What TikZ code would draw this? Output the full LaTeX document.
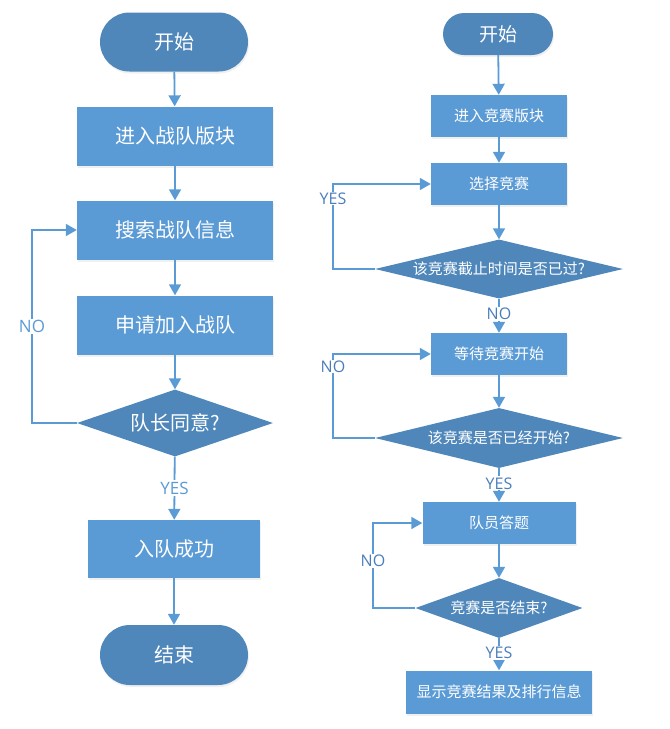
\documentclass[tikz,border=0pt]{standalone}
\usepackage{fontspec}
\setmainfont{Noto Sans CJK SC}
\newfontfamily\latinfont{Open Sans}
\usetikzlibrary{shapes.geometric,shapes.misc,arrows.meta,shadows}

\definecolor{darkblue}{HTML}{4F87BB}
\definecolor{boxblue}{HTML}{5B9BD5}
\definecolor{lblblue}{HTML}{4A7EBB}

\begin{document}
\begin{tikzpicture}[x=1pt, y=-1pt]
\tikzstyle{term}=[rounded rectangle, fill=darkblue, text=white, inner sep=0pt, drop shadow={opacity=0.12, shadow xshift=1pt, shadow yshift=-2pt}];
\tikzstyle{proc}=[rectangle, fill=boxblue, text=white, inner sep=0pt, drop shadow={opacity=0.12, shadow xshift=1pt, shadow yshift=-2pt}];
\tikzstyle{dec}=[diamond, fill=darkblue, text=white, inner sep=0pt];
\tikzstyle{e}=[draw=boxblue, line width=1.8pt, -{Triangle[width=12pt,length=11pt]}];
\tikzstyle{lbl}=[fill=white, inner sep=1.5pt, font=\latinfont\fontsize{17}{17}\selectfont];
\useasboundingbox (0,0) rectangle (670,729);

% left column
\node[term, minimum width=148pt, minimum height=59pt, font=\fontsize{20}{20}\selectfont] (start1) at (174, 42) {开始};
\node[proc, minimum width=196pt, minimum height=59pt, font=\fontsize{20}{20}\selectfont] (enter1) at (175, 136) {进入战队版块};
\node[proc, minimum width=196pt, minimum height=59pt, font=\fontsize{20}{20}\selectfont] (search) at (175, 230) {搜索战队信息};
\node[proc, minimum width=196pt, minimum height=59pt, font=\fontsize{20}{20}\selectfont] (apply) at (175, 325) {申请加入战队};
\node[dec, minimum width=196pt, minimum height=67pt, aspect=2.9, font=\fontsize{20}{20}\selectfont] (agree) at (175, 423) {队长同意?};
\node[proc, minimum width=172pt, minimum height=58pt, font=\fontsize{20}{20}\selectfont] (joined) at (174, 549) {入队成功};
\node[term, minimum width=148pt, minimum height=60pt, font=\fontsize{20}{20}\selectfont] (end1) at (174, 655) {结束};
\coordinate (c1) at (32, 423);
\coordinate (c2) at (32, 230);

\draw[e] (start1) -- (enter1);
\draw[e] (enter1) -- (search);
\draw[e] (search) -- (apply);
\draw[e] (apply) -- (agree);
\draw[e] (agree) -- node[lbl, text=boxblue, pos=0.5] {YES} (joined);
\draw[e] (joined) -- (end1);
\draw[e] (agree.west) -- (c1) -- node[lbl, text=boxblue, pos=0.5] {NO} (c2) -- (search.west);

% right column
\tikzstyle{lbl2}=[fill=white, inner sep=1pt, text=lblblue, font=\latinfont\fontsize{16}{16}\selectfont];
\node[term, minimum width=110pt, minimum height=42pt, font=\fontsize{19}{19}\selectfont] (start2) at (498, 34) {开始};
\node[proc, minimum width=136pt, minimum height=42pt, font=\fontsize{15}{15}\selectfont] (enter2) at (499, 116) {进入竞赛版块};
\node[proc, minimum width=136pt, minimum height=42pt, font=\fontsize{15}{15}\selectfont] (choose) at (499, 184) {选择竞赛};
\node[dec, minimum width=248pt, minimum height=59pt, aspect=4.2, font=\fontsize{15}{15}\selectfont] (deadline) at (499, 269) {该竞赛截止时间是否已过?};
\node[proc, minimum width=136pt, minimum height=42pt, font=\fontsize{15}{15}\selectfont] (wait) at (499, 354) {等待竞赛开始};
\node[dec, minimum width=248pt, minimum height=60pt, aspect=4.1, font=\fontsize{15}{15}\selectfont] (begun) at (499, 438) {该竞赛是否已经开始?};
\node[proc, minimum width=153pt, minimum height=42pt, font=\fontsize{15}{15}\selectfont] (answer) at (499, 523) {队员答题};
\node[dec, minimum width=167pt, minimum height=60pt, aspect=2.8, font=\fontsize{15}{15}\selectfont] (over) at (499, 608) {竞赛是否结束?};
\node[proc, minimum width=186pt, minimum height=43pt, font=\fontsize{15}{15}\selectfont] (result) at (499, 692) {显示竞赛结果及排行信息};
\coordinate (r1) at (333, 269);
\coordinate (r2) at (333, 184);
\coordinate (r3) at (333, 438);
\coordinate (r4) at (333, 354);
\coordinate (r5) at (373, 608);
\coordinate (r6) at (373, 523);

\draw[e] (start2) -- (enter2);
\draw[e] (enter2) -- (choose);
\draw[e] (choose) -- (deadline);
\draw[e] (deadline) -- node[lbl2, pos=0.45] {NO} (wait);
\draw[e] (wait) -- (begun);
\draw[e] (begun) -- node[lbl2, pos=0.45] {YES} (answer);
\draw[e] (answer) -- (over);
\draw[e] (over) -- node[lbl2, pos=0.45] {YES} (result);
\draw[e] (deadline.west) -- (r1) -- node[lbl2, pos=0.83] {YES} (r2) -- (choose.west);
\draw[e] (begun.west) -- (r3) -- node[lbl2, pos=0.85] {NO} (r4) -- (wait.west);
\draw[e] (over.west) -- (r5) -- node[lbl2, pos=0.55] {NO} (r6) -- (answer.west);
\end{tikzpicture}
\end{document}
